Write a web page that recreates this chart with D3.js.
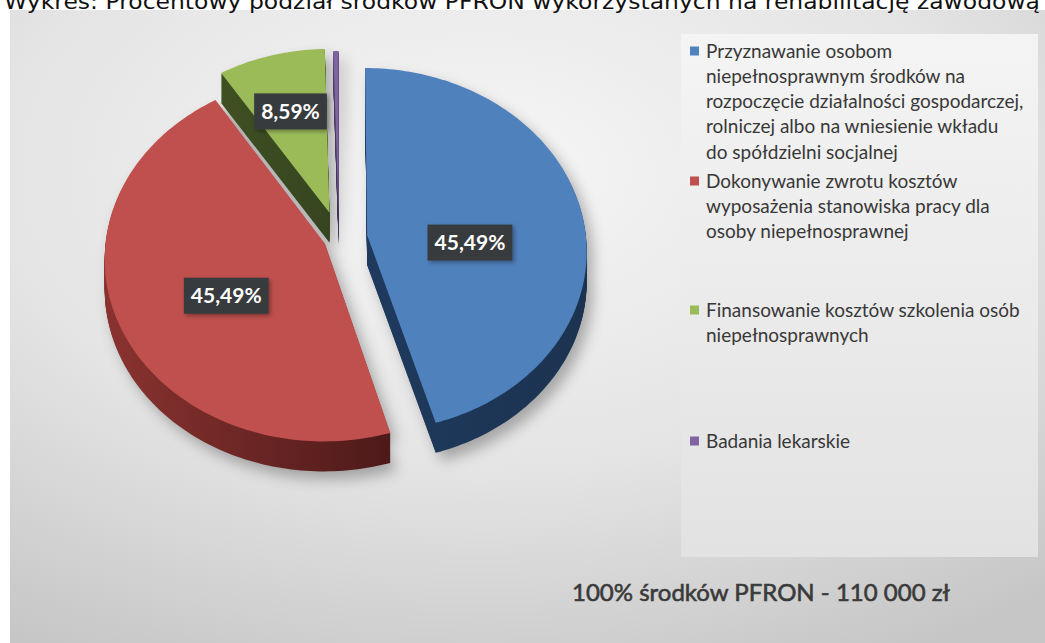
<!DOCTYPE html>
<html><head><meta charset="utf-8">
<script src="https://cdn.jsdelivr.net/npm/d3@7"></script>
<style>html,body{margin:0;padding:0;background:#fff;overflow:hidden}</style>
</head><body>
<svg id="chart" width="1045" height="643"></svg>
<script>
// ---- data ----
const titleText = "Wykres: Procentowy podział środków PFRON wykorzystanych na rehabilitację zawodową";
const categories = [
  "Przyznawanie osobom niepełnosprawnym środków na rozpoczęcie działalności gospodarczej, rolniczej albo na wniesienie wkładu do spółdzielni socjalnej",
  "Dokonywanie zwrotu kosztów wyposażenia stanowiska pracy dla osoby niepełnosprawnej",
  "Finansowanie kosztów szkolenia osób niepełnosprawnych",
  "Badania lekarskie"
];
const legendLines = [
  ["Przyznawanie osobom", "niepełnosprawnym środków na", "rozpoczęcie działalności gospodarczej,", "rolniczej albo na wniesienie wkładu", "do spółdzielni socjalnej"],
  ["Dokonywanie zwrotu kosztów", "wyposażenia stanowiska pracy dla", "osoby niepełnosprawnej"],
  ["Finansowanie kosztów szkolenia osób", "niepełnosprawnych"],
  ["Badania lekarskie"]
];
const values = [45.49, 45.49, 8.59, 0.43];
const showLabel = [true, true, true, false];
const footerText = "100% środków PFRON - 110 000 zł";

// ---- styles ----
const topColors = ["#4f81bd", "#c0504d", "#9bbb59", "#8064a2"];
const sideFrom = ["#1f3a5e", "#8a3330", "#3f5022", "#4a3a66"];
const sideTo   = ["#1c3350", "#4d1a19", "#364520", "#3d3055"];
const explode = [0.13, 0.07, 0.15, 0.13];
const labelFrac = [0.58, 0.45, 0.48, 0.5];
const labelR = [0.47, 0.52, 0.63, 0.5];

const W = 1045, H = 643;
const svg = d3.select("#chart");
const defs = svg.append("defs");

// background gradient
const bg = defs.append("radialGradient").attr("id", "bgGrad")
  .attr("cx", "0.45").attr("cy", "0.25").attr("r", "0.85");
bg.append("stop").attr("offset", "0").attr("stop-color", "#f6f6f6");
bg.append("stop").attr("offset", "0.55").attr("stop-color", "#e4e4e4");
bg.append("stop").attr("offset", "1").attr("stop-color", "#c6c6c6");
const lg = defs.append("linearGradient").attr("id", "legGrad").attr("x1", 0).attr("y1", 0).attr("x2", 0).attr("y2", 1);
lg.append("stop").attr("offset", "0").attr("stop-color", "#f4f4f4");
lg.append("stop").attr("offset", "1").attr("stop-color", "#e2e2e2");
const sh = defs.append("filter").attr("id", "shadow").attr("x", "-20%").attr("y", "-20%").attr("width", "140%").attr("height", "140%");
sh.append("feGaussianBlur").attr("stdDeviation", 7);
const lblSh = defs.append("filter").attr("id", "lblShadow").attr("x", "-20%").attr("y", "-30%").attr("width", "140%").attr("height", "160%");
lblSh.append("feDropShadow").attr("dx", 2).attr("dy", 2).attr("stdDeviation", 2).attr("flood-color", "#000").attr("flood-opacity", 0.35);
values.forEach((v, i) => {
  const g = defs.append("linearGradient").attr("id", "side" + i).attr("x1", 0).attr("y1", 0).attr("x2", 1).attr("y2", 0);
  g.append("stop").attr("offset", "0").attr("stop-color", sideFrom[i]);
  g.append("stop").attr("offset", "1").attr("stop-color", sideTo[i]);
});

svg.append("rect").attr("x", 10).attr("y", 10).attr("width", W).attr("height", H)
  .attr("fill", "url(#bgGrad)");

// ---- pie geometry (tilted disc with mild perspective) ----
const cx = 339, cy = 238.5, RX = 219, RY = 181, depth = 30, persp = 0.08;
const pie = d3.pie().sort(null).value(d => d);
const arcs = pie(values);
const line = d3.line();
const project = (u, v, z) => {
  const p = 1 / (1 + persp * v);
  return [cx + u * RX * p, cy - v * RY * p + z];
};
function slicePts(a, i, z) {
  const mid = (a.startAngle + a.endAngle) / 2;
  const ou = Math.sin(mid) * explode[i], ov = Math.cos(mid) * explode[i];
  const pts = [project(ou, ov, z)];
  const n = Math.max(4, Math.ceil((a.endAngle - a.startAngle) / 0.02));
  for (let k = 0; k <= n; k++) {
    const t = a.startAngle + (a.endAngle - a.startAngle) * k / n;
    pts.push(project(ou + Math.sin(t), ov + Math.cos(t), z));
  }
  return pts;
}
const pathFor = (a, i, z) => line(slicePts(a, i, z)) + "Z";

// shadow
const shadowG = svg.append("g").attr("filter", "url(#shadow)").attr("opacity", 0.45)
  .attr("transform", "translate(6,8)");
arcs.forEach((a, i) => {
  shadowG.append("path").attr("d", pathFor(a, i, depth)).attr("fill", "#555");
  shadowG.append("path").attr("d", pathFor(a, i, 0)).attr("fill", "#555");
});

// draw order: back to front
const order = [2, 3, 1, 0];
const pieG = svg.append("g");
order.forEach(i => {
  const a = arcs[i];
  const g = pieG.append("g");
  for (let z = depth; z >= 1; z--) {
    g.append("path").attr("d", pathFor(a, i, z)).attr("fill", `url(#side${i})`);
  }
  g.append("path").attr("d", pathFor(a, i, 0)).attr("fill", topColors[i]);
});

// labels
const fmt = v => d3.format(".2f")(v).replace(".", ",") + "%";
arcs.forEach((a, i) => {
  if (!showLabel[i]) return;
  const mid = (a.startAngle + a.endAngle) / 2;
  const ou = Math.sin(mid) * explode[i], ov = Math.cos(mid) * explode[i];
  const t0 = a.startAngle + (a.endAngle - a.startAngle) * labelFrac[i];
  const [x, y] = project(ou + Math.sin(t0) * labelR[i], ov + Math.cos(t0) * labelR[i], 0);
  const g = svg.append("g").attr("transform", `translate(${x},${y})`);
  const t = g.append("text").attr("text-anchor", "middle").attr("dy", "0.36em")
    .attr("font-family", "Lato, 'Open Sans', sans-serif").attr("font-weight", 700)
    .attr("font-size", 21).attr("fill", "#fff").text(fmt(a.data));
  const bb = t.node().getBBox();
  g.insert("rect", "text").attr("x", bb.x - 7).attr("y", -18).attr("width", bb.width + 14).attr("height", 36)
    .attr("fill", "#383b3e").attr("filter", "url(#lblShadow)");
});

// legend
svg.append("rect").attr("x", 681).attr("y", 34).attr("width", 357).attr("height", 523)
  .attr("fill", "url(#legGrad)");
const entryY = [51, 181, 310, 441];
const lineH = 25.3;
legendLines.forEach((lines, i) => {
  const g = svg.append("g").attr("transform", `translate(690,${entryY[i]})`);
  g.append("rect").attr("x", 0).attr("y", -4.5).attr("width", 9).attr("height", 9).attr("fill", topColors[i]);
  const t = g.append("text").attr("font-family", "Lato, 'Open Sans', sans-serif").attr("font-size", 19)
    .attr("fill", "#383838");
  lines.forEach((l, k) => {
    t.append("tspan").attr("x", 16).attr("y", k * lineH + 6.5).text(l);
  });
});

// footer
svg.append("text").attr("x", 761).attr("y", 601).attr("text-anchor", "middle")
  .attr("font-family", "Lato, 'Open Sans', sans-serif").attr("font-size", 24)
  .attr("fill", "#3a3a3a").attr("stroke", "#3a3a3a").attr("stroke-width", 0.6)
  .text(footerText);

// title (cut off at top, as in the source)
svg.append("text").attr("x", 4).attr("y", 9)
  .attr("font-family", "'DejaVu Sans', sans-serif").attr("font-size", 22)
  .attr("textLength", 1036).attr("lengthAdjust", "spacingAndGlyphs")
  .attr("fill", "#111").text(titleText);
</script>
</body></html>
